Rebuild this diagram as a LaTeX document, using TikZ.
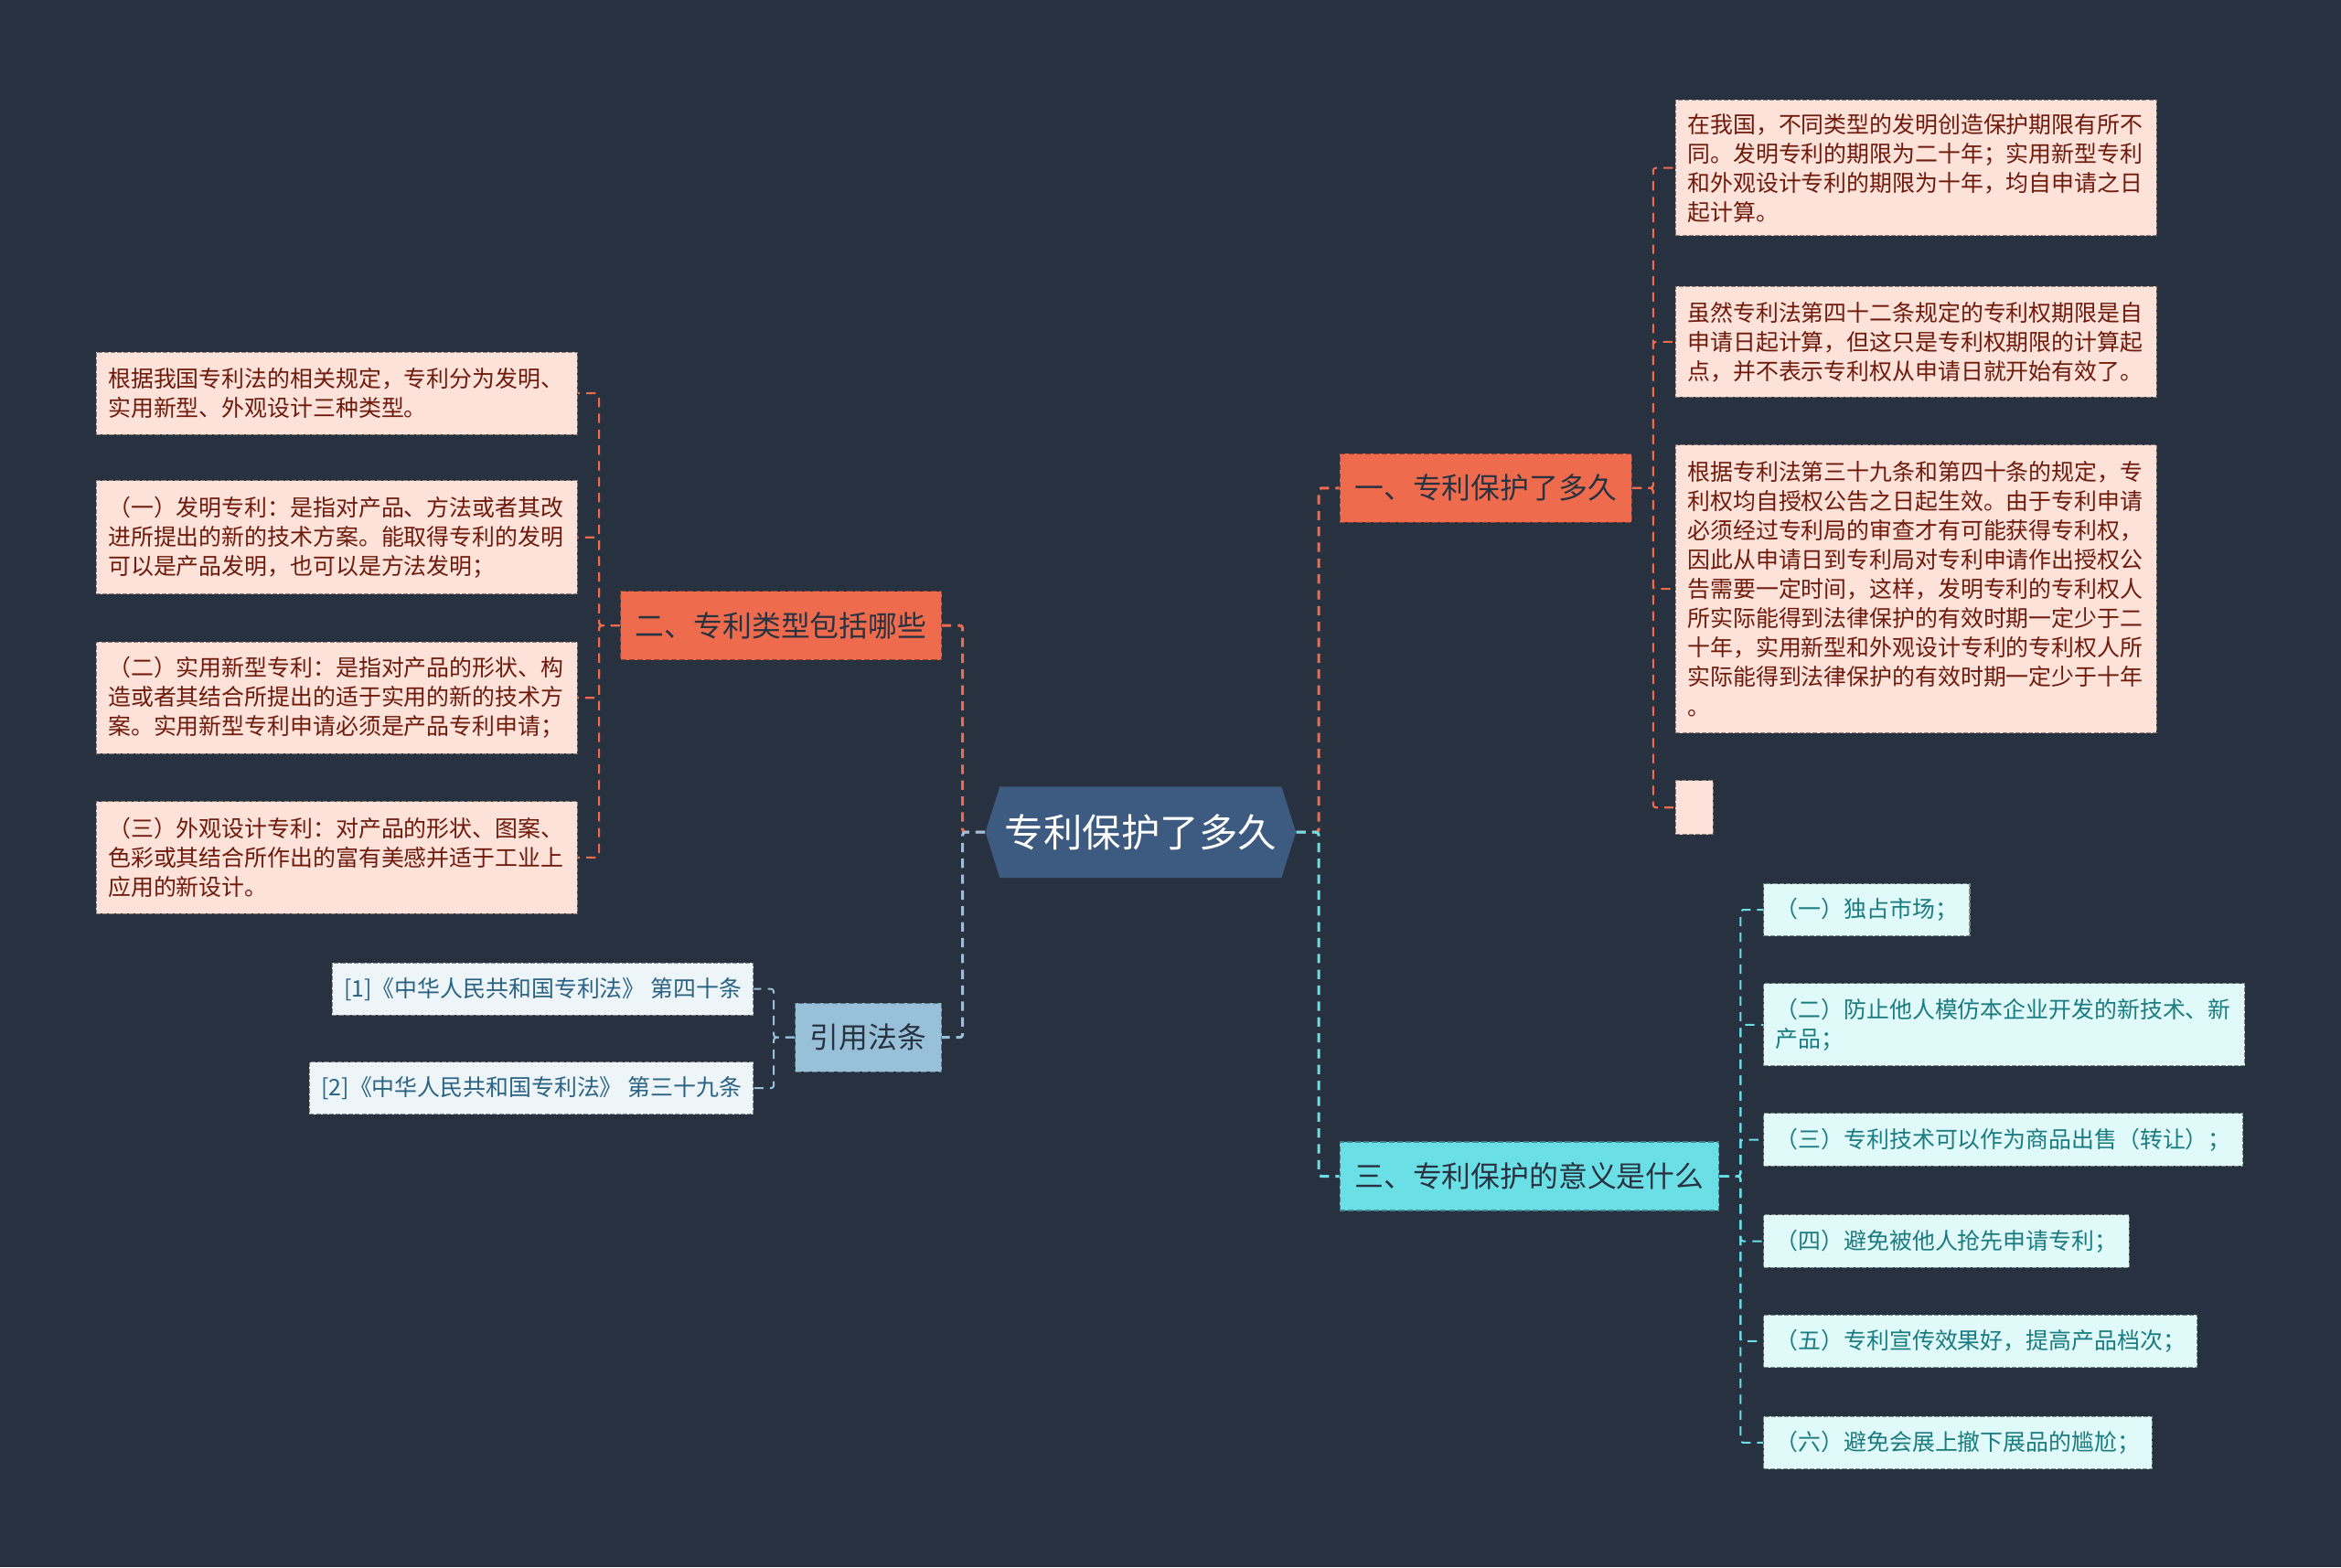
\documentclass[tikz,border=0pt]{standalone}
\usepackage{fontspec}
\setmainfont{Noto Sans CJK SC}
\usetikzlibrary{shapes.symbols}

\definecolor{bgnavy}{HTML}{283140}
\definecolor{hubblue}{HTML}{3D5A80}
\definecolor{coral}{HTML}{EE6C4D}
\definecolor{coralpale}{HTML}{FDE2DA}
\definecolor{coraltext}{HTML}{6E1A0C}
\definecolor{aqua}{HTML}{6ADFE5}
\definecolor{aquapale}{HTML}{E0FAFA}
\definecolor{aquatext}{HTML}{1A7B80}
\definecolor{skyblue}{HTML}{98C1D9}
\definecolor{skypale}{HTML}{EDF5F9}
\definecolor{skytext}{HTML}{2A6283}
\definecolor{inktext}{HTML}{293241}

\begin{document}
\begin{tikzpicture}[
    x=0.8pt, y=-0.8pt,
    font=\fontsize{12.2pt}{15.7pt}\selectfont,
    hub/.style={signal, signal to=west and east, signal pointer angle=145,
      fill=hubblue, text=white, font=\fontsize{20.8pt}{24pt}\selectfont,
      minimum width=166.4pt, minimum height=48.8pt, inner xsep=2pt},
    topic/.style={fill=#1, draw=#1!60!black, dash pattern=on 3pt off 1.5pt,
      line width=0.6pt, text=inktext, font=\fontsize{15.6pt}{18pt}\selectfont,
      inner xsep=8pt, inner ysep=0pt, minimum height=36.8pt},
    leafbox/.style={anchor=west, align=left, inner xsep=6.4pt, inner ysep=0pt,
      dash pattern=on 2.5pt off 1pt, line width=0.5pt, minimum height=28pt},
    rleaf/.style={leafbox, fill=coralpale, draw=coralpale!55!black, text=coraltext},
    sleaf/.style={leafbox, fill=aquapale, draw=aquapale!55!black, text=aquatext},
    cleaf/.style={leafbox, fill=skypale, draw=skypale!55!black, text=skytext},
    wide/.style={text width=245pt},
    link/.style={line width=1pt, dash pattern=on 5pt off 3.5pt, rounded corners=1.5pt},
    trunk/.style={link, line width=1.5pt}]

  \useasboundingbox (0,0) rectangle (1568,1050);
  \fill[bgnavy] (0,0) rectangle (1568,1050);

  % centre and main topics
  \node[hub] (hub) at (764,557.5) {专利保护了多久};
  \node[topic=coral, anchor=west] (t1) at (897,327) {一、专利保护了多久};
  \node[topic=coral, anchor=east] (t2) at (631,419) {二、专利类型包括哪些};
  \node[topic=aqua, anchor=west] (t3) at (897,788) {三、专利保护的意义是什么};
  \node[topic=skyblue, anchor=east] (t4) at (631,695) {引用法条};

  % 一
  \node[rleaf, wide, minimum height=72.8pt] (r1) at (1122,112.5)
    {在我国，不同类型的发明创造保护期限有所不\\同。发明专利的期限为二十年；实用新型专利\\和外观设计专利的期限为十年，均自申请之日\\起计算。};
  \node[rleaf, wide, minimum height=59.2pt] (r2) at (1122,229)
    {虽然专利法第四十二条规定的专利权期限是自\\申请日起计算，但这只是专利权期限的计算起\\点，并不表示专利权从申请日就开始有效了。};
  \node[rleaf, wide, minimum height=154.4pt] (r3) at (1122,394.5)
    {根据专利法第三十九条和第四十条的规定，专\\利权均自授权公告之日起生效。由于专利申请\\必须经过专利局的审查才有可能获得专利权，\\因此从申请日到专利局对专利申请作出授权公\\告需要一定时间，这样，发明专利的专利权人\\所实际能得到法律保护的有效时期一定少于二\\十年，实用新型和外观设计专利的专利权人所\\实际能得到法律保护的有效时期一定少于十年\\。};
  \node[rleaf, minimum width=20pt, minimum height=28.8pt] (r4) at (1122,541) {};

  % 二
  \node[rleaf, wide, anchor=east, minimum height=44pt] (l1) at (387,263.5)
    {根据我国专利法的相关规定，专利分为发明、\\实用新型、外观设计三种类型。};
  \node[rleaf, wide, anchor=east, minimum height=60.8pt] (l2) at (387,360)
    {（一）发明专利：是指对产品、方法或者其改\\进所提出的新的技术方案。能取得专利的发明\\可以是产品发明，也可以是方法发明；};
  \node[rleaf, wide, anchor=east, minimum height=60pt] (l3) at (387,467.5)
    {（二）实用新型专利：是指对产品的形状、构\\造或者其结合所提出的适于实用的新的技术方\\案。实用新型专利申请必须是产品专利申请；};
  \node[rleaf, wide, anchor=east, minimum height=60pt] (l4) at (387,574.5)
    {（三）外观设计专利：对产品的形状、图案、\\色彩或其结合所作出的富有美感并适于工业上\\应用的新设计。};

  % 三
  \node[sleaf] (s1) at (1181,609.5) {（一）独占市场；};
  \node[sleaf, wide, minimum height=44pt] (s2) at (1181,686.5)
    {（二）防止他人模仿本企业开发的新技术、新\\产品；};
  \node[sleaf] (s3) at (1181,763.5) {（三）专利技术可以作为商品出售（转让）；};
  \node[sleaf] (s4) at (1181,831.5) {（四）避免被他人抢先申请专利；};
  \node[sleaf] (s5) at (1181,898.5) {（五）专利宣传效果好，提高产品档次；};
  \node[sleaf] (s6) at (1181,966.5) {（六）避免会展上撤下展品的尴尬；};

  % 引用法条
  \node[cleaf, anchor=east] (c1) at (505,662.5) {[1]《中华人民共和国专利法》 第四十条};
  \node[cleaf, anchor=east] (c2) at (505,729) {[2]《中华人民共和国专利法》 第三十九条};

  % connectors
  \draw[trunk, coral] (hub.east) -- ++(15,0) |- (t1.west);
  \draw[trunk, aqua] (hub.east) -- ++(15,0) |- (t3.west);
  \draw[trunk, coral] (hub.west) -- ++(-15,0) |- (t2.east);
  \draw[trunk, skyblue] (hub.west) -- ++(-15,0) |- (t4.east);
  \foreach \leaf in {r1,r2,r3,r4}
    \draw[link, coral] (t1.east) -- ++(14,0) |- (\leaf.west);
  \foreach \leaf in {l1,l2,l3,l4}
    \draw[link, coral] (t2.west) -- ++(-14,0) |- (\leaf.east);
  \foreach \leaf in {s1,s2,s3,s4,s5,s6}
    \draw[link, aqua] (t3.east) -- ++(14,0) |- (\leaf.west);
  \foreach \leaf in {c1,c2}
    \draw[link, skyblue] (t4.west) -- ++(-14,0) |- (\leaf.east);
\end{tikzpicture}
\end{document}
